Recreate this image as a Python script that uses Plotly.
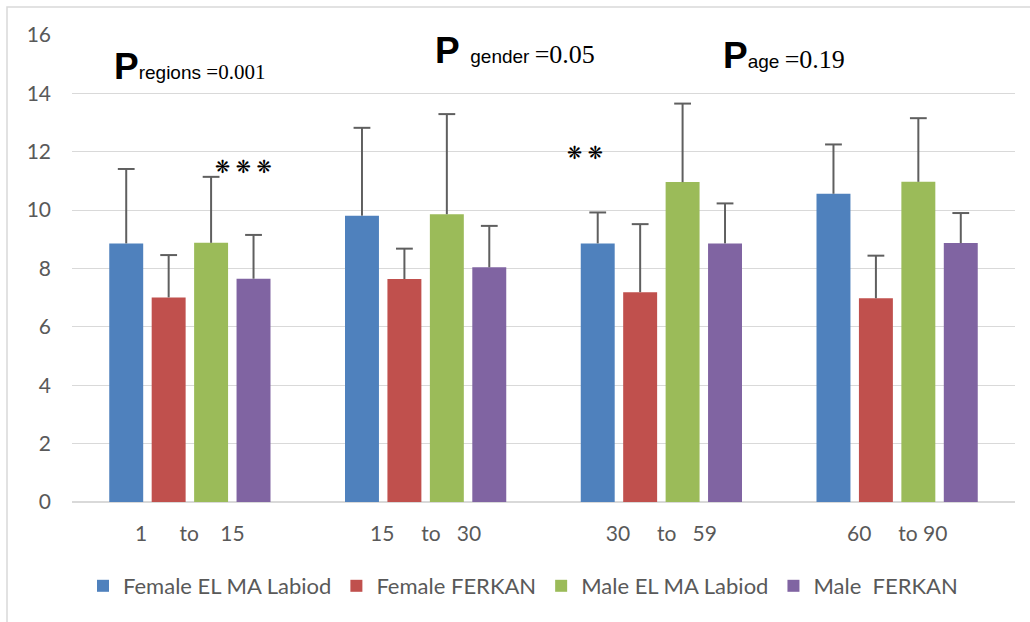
import plotly.graph_objects as go

NB = "\u00a0"
categories = ["1" + NB*6 + "to" + NB*4 + "15",
              "15" + NB*5 + "to" + NB*3 + "30",
              "30" + NB*5 + "to" + NB*3 + "59",
              "60" + NB*5 + "to" + NB*1 + "90"]

series_names = ["Female EL MA Labiod", "Female FERKAN", "Male EL MA Labiod", "Male  FERKAN"]
female_elma = [8.86, 9.81, 8.86, 10.56]
female_ferkan = [7.01, 7.64, 7.19, 6.98]
male_elma = [8.88, 9.86, 10.96, 10.97]
male_ferkan = [7.65, 8.04, 8.86, 8.87]

female_elma_err = [2.55, 3.01, 1.06, 1.69]
female_ferkan_err = [1.45, 1.04, 2.33, 1.46]
male_elma_err = [2.26, 3.43, 2.69, 2.18]
male_ferkan_err = [1.50, 1.42, 1.37, 1.03]

colors = ["#4F81BD", "#C0504D", "#9BBB59", "#8064A2"]
values = [female_elma, female_ferkan, male_elma, male_ferkan]
errors = [female_elma_err, female_ferkan_err, male_elma_err, male_ferkan_err]
err_color = "#5f5f5f"

fig = go.Figure()
for i, (name, v, e, c) in enumerate(zip(series_names, values, errors, colors)):
    fig.add_trace(go.Bar(
        x=categories, y=v, name=name, offsetgroup=str(i),
        marker=dict(color=c, line=dict(width=0)),
        error_y=dict(type="data", array=e, symmetric=False, arrayminus=[0]*len(e),
                     color=err_color, thickness=2, width=0),
    ))
for i, (v, e) in enumerate(zip(values, errors)):
    fig.add_trace(go.Scatter(
        x=categories, y=[a + b for a, b in zip(v, e)], mode="markers",
        offsetgroup=str(i), showlegend=False, hoverinfo="skip",
        marker=dict(symbol="line-ew", size=12, line=dict(color=err_color, width=2)),
    ))

W, H = 1030, 622
L, R, T, B = 72, 15, 35, 120
pw = W - L - R
ph = H - T - B

def px(x):
    return (x - L) / pw

def py(y):
    return (H - B - y) / ph

grey = "#595959"
font_main = "Lato, 'Liberation Sans', sans-serif"

annotations = [
    dict(x=px(112), y=py(89), xanchor="left", yanchor="bottom",
         text="<b><span style='font-size:37px'>P</span></b>"
              "<span style='font-size:19px'>regions </span>"
              "<span style='font-family:Liberation Serif;font-size:21px'>=0.001</span>",
         font=dict(family="Liberation Sans", color="black")),
    dict(x=px(433), y=py(73), xanchor="left", yanchor="bottom",
         text="<b><span style='font-size:37px'>P</span></b>"
              "<span style='font-size:19px'>" + NB*2 + "gender </span>"
              "<span style='font-family:Liberation Serif;font-size:26px'>=0.05</span>",
         font=dict(family="Liberation Sans", color="black")),
    dict(x=px(721), y=py(78), xanchor="left", yanchor="bottom",
         text="<b><span style='font-size:37px'>P</span></b>"
              "<span style='font-size:19px'>age </span>"
              "<span style='font-family:Liberation Serif;font-size:26px'>=0.19</span>",
         font=dict(family="Liberation Sans", color="black")),
    dict(x=px(243), y=py(166), xanchor="center", yanchor="middle",
         text="❋ ❋ ❋", font=dict(family="DejaVu Sans", size=18, color="black")),
    dict(x=px(585), y=py(152), xanchor="center", yanchor="middle",
         text="❋ ❋", font=dict(family="DejaVu Sans", size=18, color="black")),
]
for a in annotations:
    a.update(xref="paper", yref="paper", showarrow=False)

fig.update_layout(
    width=W, height=H,
    margin=dict(l=L, r=R, t=T, b=B, autoexpand=False),
    paper_bgcolor="white", plot_bgcolor="white",
    barmode="group", bargap=0.28, bargroupgap=0.2,
    scattermode="group", scattergap=0.28,
    font=dict(family=font_main, color=grey, size=21),
    showlegend=True,
    legend=dict(orientation="h", x=px(83), y=py(586), xanchor="left", yanchor="middle",
                xref="paper", yref="paper",
                font=dict(size=22, color=grey),
                itemwidth=30, traceorder="normal"),
    annotations=annotations,
    shapes=[dict(type="rect", xref="paper", yref="paper",
                 x0=px(7), x1=px(1040), y0=py(640), y1=py(7),
                 line=dict(color="#D9D9D9", width=1.5), layer="below")],
    xaxis=dict(showgrid=False, showline=False, ticks="", ticklabelstandoff=17,
               tickfont=dict(size=21, color=grey)),
    yaxis=dict(range=[0, 16], dtick=2, showgrid=True, gridcolor="#D9D9D9", gridwidth=1.3,
               zeroline=True, zerolinecolor="#D9D9D9", zerolinewidth=1.5,
               showline=False, ticks="", ticklabelstandoff=20,
               tickfont=dict(size=21, color=grey)),
)

fig.write_html("out.html", config={"displayModeBar": False},
               post_script="document.body.style.margin='0';")
